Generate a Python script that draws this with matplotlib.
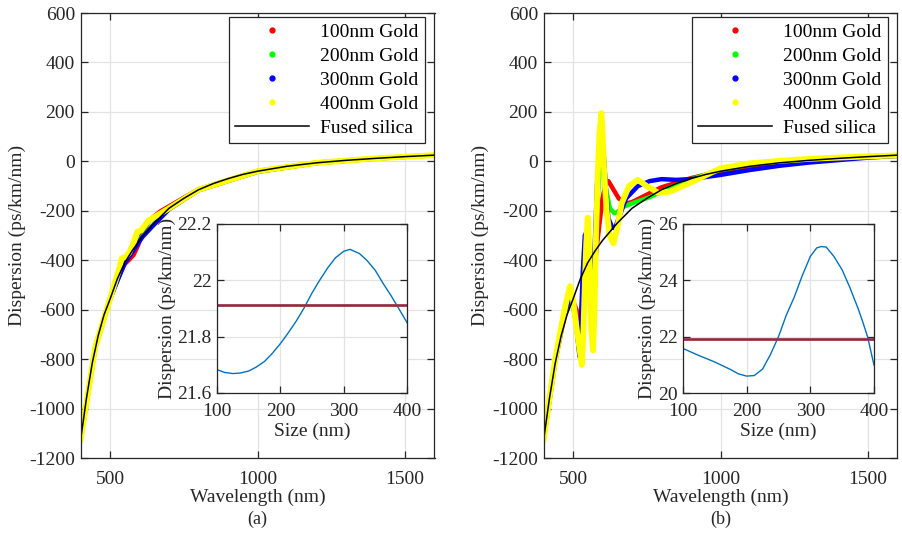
import matplotlib
matplotlib.use("Agg")
import matplotlib.pyplot as plt
from matplotlib.lines import Line2D

plt.rcParams['font.family'] = ['Liberation Serif', 'DejaVu Serif']
plt.rcParams['axes.unicode_minus'] = False
plt.rcParams['font.size'] = 14

# ---------------- data ----------------
silica_wl = [400, 420, 440, 460, 480, 500, 525, 550, 575, 600, 650, 700, 750, 800,
             850, 900, 950, 1000, 1100, 1200, 1300, 1400, 1500, 1600]
silica_d = [-1130, -960, -815, -705, -620, -558, -475, -410, -362, -320, -250, -190,
            -150, -115, -90, -70, -53, -40, -20, -6, 4, 12, 19, 25]

# panel (a)
a_red_wl = [400, 450, 500, 530, 550, 565, 580, 595, 610, 630, 650, 670, 700, 800, 1000, 1200, 1400, 1600]
a_red_d = [-1130, -755, -558, -462, -415, -398, -378, -340, -290, -245, -222, -203, -182, -113, -39, -5, 12, 25]
a_green_wl = [400, 450, 500, 550, 580, 610, 650, 700, 800, 1000, 1200, 1400, 1600]
a_green_d = [-1130, -752, -555, -405, -352, -302, -252, -192, -116, -42, -7, 12, 25]
a_blue_wl = [400, 450, 500, 550, 580, 610, 650, 700, 800, 1000, 1200, 1400, 1600]
a_blue_d = [-1130, -752, -556, -412, -358, -306, -255, -194, -117, -42, -7, 11, 25]
a_yel_wl = [400, 450, 500, 530, 540, 552, 565, 580, 592, 605, 630, 700, 800, 1000, 1200, 1400, 1600]
a_yel_d = [-1130, -752, -556, -440, -392, -388, -370, -330, -285, -280, -240, -190, -115, -40, -6, 12, 25]

# panel (b)
b_red_wl = [400, 440, 470, 492, 505, 515, 524, 532, 540, 547, 555, 563, 572, 582, 592, 600,
            610, 620, 635, 655, 680, 700, 750, 800, 900, 1000, 1200, 1400, 1600]
b_red_d = [-1130, -810, -630, -540, -580, -610, -640, -560, -450, -420, -470, -520, -450, -330, -230, -150,
           -95, -80, -110, -150, -170, -165, -135, -105, -68, -40, -6, 12, 25]
b_green_wl = [400, 440, 470, 493, 508, 520, 527, 535, 542, 548, 555, 563, 570, 578, 587, 596,
              604, 612, 625, 640, 650, 670, 700, 760, 820, 900, 1000, 1100, 1200, 1400, 1600]
b_green_d = [-1130, -805, -625, -535, -640, -760, -680, -500, -380, -360, -470, -600, -520, -300, -90, 20,
             0, -110, -190, -210, -205, -185, -170, -145, -110, -72, -35, -14, 0, 15, 22]
b_blue_wl = [400, 440, 470, 495, 510, 522, 527, 533, 540, 546, 552, 558, 563, 568, 575, 582,
             590, 600, 606, 612, 620, 632, 642, 655, 680, 720, 760, 800, 850, 900, 1000, 1100,
             1200, 1300, 1400, 1500, 1600]
b_blue_d = [-1130, -800, -620, -533, -650, -790, -650, -450, -300, -285, -400, -550, -645, -550, -300, -80,
            40, 75, 0, -120, -230, -265, -271, -230, -150, -100, -80, -72, -75, -72, -55, -35,
            -18, -5, 5, 15, 22]
b_yel_wl = [400, 420, 440, 460, 475, 490, 500, 515, 530, 535, 540, 545, 550, 553, 557, 562,
            568, 573, 578, 584, 590, 596, 600, 606, 614, 624, 637, 650, 665, 690, 720, 750,
            790, 830, 900, 1000, 1100, 1200, 1300, 1400, 1500, 1600]
b_yel_d = [-1130, -960, -800, -670, -580, -505, -560, -700, -824, -700, -500, -330, -228, -300, -500, -680,
           -765, -600, -300, -50, 120, 195, 120, -50, -200, -300, -332, -270, -170, -100, -75, -100,
           -128, -122, -85, -28, -8, 2, 10, 15, 20, 24]

# insets
size_a = [100, 112, 125, 137, 150, 162, 175, 187, 200, 212, 225, 237, 250, 262, 275, 287,
          300, 310, 325, 337, 350, 362, 375, 387, 400]
inset_a = [21.683, 21.673, 21.669, 21.671, 21.678, 21.692, 21.712, 21.740, 21.775, 21.812,
           21.855, 21.900, 21.955, 22.000, 22.045, 22.080, 22.103, 22.110, 22.095, 22.070,
           22.035, 21.990, 21.945, 21.900, 21.850]
inset_a_ref = 21.912
size_b = [100, 112, 125, 137, 150, 162, 175, 187, 200, 212, 225, 237, 250, 262, 275, 287,
          300, 310, 317, 325, 337, 350, 362, 375, 382, 390, 400]
inset_b = [21.58, 21.46, 21.33, 21.22, 21.10, 20.97, 20.83, 20.68, 20.60, 20.62, 20.85, 21.35,
           22.00, 22.75, 23.42, 24.15, 24.85, 25.15, 25.20, 25.18, 24.85, 24.37, 23.75, 23.00,
           22.55, 21.99, 20.99]
inset_b_ref = 21.91

gold_labels = ['100nm Gold', '200nm Gold', '300nm Gold', '400nm Gold']
gold_colors = ['#ff0000', '#00ff00', '#0000ff', '#ffff00']
xticks = [500, 1000, 1500]
yticks = [-1200, -1000, -800, -600, -400, -200, 0, 200, 400, 600]

AX_COLOR = '#262626'
GRID_COLOR = '#e3e3e3'

fig = plt.figure(figsize=(9.03, 5.35), dpi=100)


def style_axes(ax, xpad=4):
    for s in ax.spines.values():
        s.set_color(AX_COLOR)
        s.set_linewidth(0.9)
    ax.tick_params(direction='in', which='both', top=True, right=True, length=5,
                   width=0.9, colors=AX_COLOR, labelsize=14, pad=4)
    ax.tick_params(axis='x', pad=xpad)
    ax.grid(True, color=GRID_COLOR, linewidth=0.9)
    ax.set_axisbelow(True)


def main_panel(rect, series, caption):
    ax = fig.add_axes(rect)
    widths = [3.2, 3.2, 3.2, 4.2]
    for (wl, d), c, w in zip(series, gold_colors, widths):
        ax.plot(wl, d, color=c, lw=w, solid_capstyle='round', solid_joinstyle='round')
    ax.plot(silica_wl, silica_d, color='black', lw=1.1)
    ax.set_xlim(400, 1600)
    ax.set_ylim(-1200, 600)
    ax.set_xticks(xticks)
    ax.set_yticks(yticks)
    style_axes(ax, xpad=9)
    ax.set_xlabel('Wavelength (nm)', fontsize=14, color=AX_COLOR, labelpad=1)
    ax.set_ylabel('Dispersion (ps/km/nm)', fontsize=14, color=AX_COLOR, labelpad=2)
    handles = [Line2D([], [], color=c, marker='o', ms=3.5, ls='none') for c in gold_colors]
    handles.append(Line2D([], [], color='black', lw=1.1))
    leg = ax.legend(handles, gold_labels + ['Fused silica'], loc='upper right',
                    bbox_to_anchor=(0.972, 0.99),
                    fontsize=14, fancybox=False, framealpha=1, edgecolor=AX_COLOR,
                    handlelength=3.8, labelspacing=0.33, borderpad=0.3,
                    handletextpad=0.6, borderaxespad=0.0, markerfirst=True)
    leg.get_frame().set_linewidth(0.9)
    ax.text(0.5, -0.138, caption, transform=ax.transAxes, ha='center', va='center',
            fontsize=13, color=AX_COLOR)
    return ax


def inset(rect, x, y, ref, ylim, yticks_in, yticklabels):
    ax = fig.add_axes(rect)
    ax.set_facecolor('white')
    ax.plot(x, y, color='#0072BD', lw=1.0)
    ax.axhline(ref, color='#A0404A', lw=2.0)
    ax.axhline(ref, color='#7E2F5E', lw=1.0)
    ax.set_xlim(100, 400)
    ax.set_ylim(*ylim)
    ax.set_xticks([100, 200, 300, 400])
    ax.set_yticks(yticks_in)
    ax.set_yticklabels(yticklabels)
    style_axes(ax, xpad=7)
    ax.set_xlabel('Size (nm)', fontsize=14, color=AX_COLOR, labelpad=2)
    ax.set_ylabel('Dispersion (ps/km/nm)', fontsize=14, color=AX_COLOR, labelpad=1)
    return ax


pos_a = [80.5 / 903, 77 / 535, 354 / 903, 445 / 535]
pos_b = [543.5 / 903, 77 / 535, 354 / 903, 445 / 535]

main_panel(pos_a, [(a_red_wl, a_red_d), (a_green_wl, a_green_d),
                   (a_blue_wl, a_blue_d), (a_yel_wl, a_yel_d)], '(a)')
main_panel(pos_b, [(b_red_wl, b_red_d), (b_green_wl, b_green_d),
                   (b_blue_wl, b_blue_d), (b_yel_wl, b_yel_d)], '(b)')

inset([217 / 903, 142 / 535, 190 / 903, 169 / 535], size_a, inset_a, inset_a_ref,
      (21.6, 22.2), [21.6, 21.8, 22.0, 22.2], ['21.6', '21.8', '22', '22.2'])
inset([683 / 903, 142 / 535, 191 / 903, 169 / 535], size_b, inset_b, inset_b_ref,
      (20, 26), [20, 22, 24, 26], ['20', '22', '24', '26'])

fig.savefig('out.png', dpi=100)
